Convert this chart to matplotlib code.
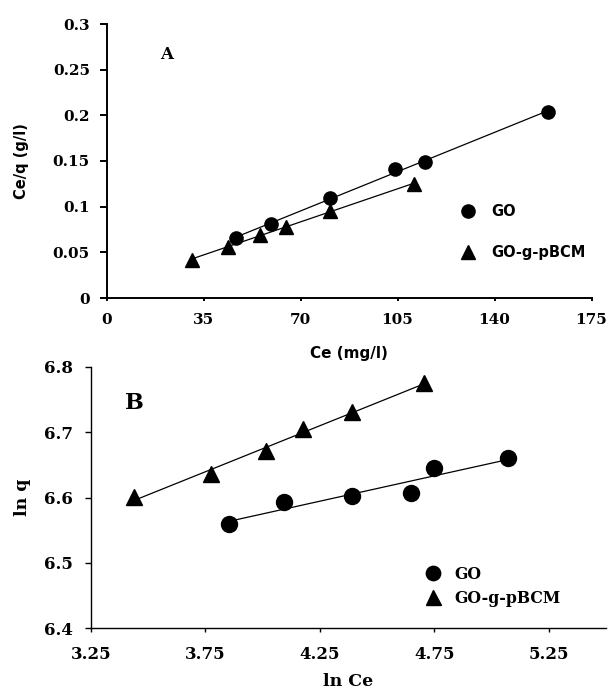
import numpy as np
import matplotlib
matplotlib.use('Agg')
import matplotlib.pyplot as plt

# Panel A : Langmuir  (Ce vs Ce/q)
ce_go = [46.6, 59.2, 80.7, 104.1, 114.9, 159.3]
ceq_go = [0.066, 0.0807, 0.109, 0.141, 0.149, 0.204]
ce_bcm = [30.7, 43.8, 55.3, 64.8, 80.7, 110.9]
ceq_bcm = [0.042, 0.056, 0.069, 0.078, 0.095, 0.125]

# Panel B : Freundlich (ln Ce vs ln q)
lnce_go = [3.852, 4.092, 4.393, 4.648, 4.747, 5.073]
lnq_go = [6.559, 6.593, 6.603, 6.607, 6.645, 6.660]
lnce_bcm = [3.437, 3.777, 4.015, 4.177, 4.393, 4.707]
lnq_bcm = [6.601, 6.636, 6.671, 6.705, 6.730, 6.775]

W, H = 611, 691
serif = 'DejaVu Serif'
sans = 'DejaVu Sans'

def fit_line(ax, x, y, lw=0.9):
	x = np.asarray(x)
	k, b = np.polyfit(x, y, 1)
	xs = np.array([x.min(), x.max()])
	ax.plot(xs, k*xs + b, color='black', lw=lw, zorder=1)

def style(ax, spw, ylen, xlen, size, ypad, xpad):
	for s in ['top', 'right']:
		ax.spines[s].set_visible(False)
	for s in ['left', 'bottom']:
		ax.spines[s].set_linewidth(spw)
	ax.tick_params(axis='y', direction='out', length=ylen, width=spw, labelsize=size, pad=ypad)
	ax.tick_params(axis='x', direction='out', length=xlen, width=spw, labelsize=size, pad=xpad)
	for lab in ax.get_xticklabels() + ax.get_yticklabels():
		lab.set_fontfamily(serif)
		lab.set_fontweight('bold')

fig = plt.figure(figsize=(W/100, H/100), dpi=100)

# ---- A
ax1 = fig.add_axes([106.5/W, 1 - 298/H, 485/W, 274/H])
fit_line(ax1, ce_go, ceq_go)
fit_line(ax1, ce_bcm, ceq_bcm)
ax1.plot(ce_go, ceq_go, 'o', color='black', ms=9.5, label='GO', zorder=3)
ax1.plot(ce_bcm, ceq_bcm, '^', color='black', ms=10, label='GO-g-pBCM', zorder=3)
ax1.set_xlim(0, 175)
ax1.set_ylim(0, 0.3)
ax1.set_xticks([0, 35, 70, 105, 140, 175])
ax1.set_yticks([0, 0.05, 0.1, 0.15, 0.2, 0.25, 0.3])
ax1.set_yticklabels(['0', '0.05', '0.1', '0.15', '0.2', '0.25', '0.3'])
style(ax1, 1.4, 5, 2.5, 11, 7, 8)
ax1.set_xlabel('Ce (mg/l)', fontfamily=sans, fontweight='bold', fontsize=11)
ax1.xaxis.set_label_coords(0.5, -0.175)
ax1.set_ylabel('Ce/q (g/l)', fontfamily=sans, fontweight='bold', fontsize=10.5)
ax1.yaxis.set_label_coords(-0.16, 0.5)
ax1.text(0.124, 0.887, 'A', transform=ax1.transAxes, fontfamily=serif,
		 fontweight='bold', fontsize=12, ha='center', va='center')
ax1.legend(loc='center left', bbox_to_anchor=(0.731, 0.241), frameon=False,
		   prop={'family': sans, 'weight': 'bold', 'size': 10.5},
		   handlelength=1, handletextpad=1.1, labelspacing=1.75, borderpad=0,
		   borderaxespad=0, markerscale=1.0)

# ---- B
ax2 = fig.add_axes([90.7/W, 1 - 628.3/H, 515.3/W, 261.6/H])
fit_line(ax2, lnce_go, lnq_go)
fit_line(ax2, lnce_bcm, lnq_bcm)
ax2.plot(lnce_go, lnq_go, 'o', color='black', ms=11.5, label='GO', zorder=3)
ax2.plot(lnce_bcm, lnq_bcm, '^', color='black', ms=12, label='GO-g-pBCM', zorder=3)
ax2.set_xlim(3.25, 5.5)
ax2.set_ylim(6.4, 6.8)
ax2.set_xticks([3.25, 3.75, 4.25, 4.75, 5.25])
ax2.set_yticks([6.4, 6.5, 6.6, 6.7, 6.8])
style(ax2, 1.0, 4.5, 3, 12, 8, 10)
ax2.set_xlabel('ln Ce', fontfamily=serif, fontweight='bold', fontsize=12.5)
ax2.xaxis.set_label_coords(0.5, -0.17)
ax2.set_ylabel('ln q', fontfamily=serif, fontweight='bold', fontsize=12.5)
ax2.yaxis.set_label_coords(-0.115, 0.5)
ax2.text(0.085, 0.863, 'B', transform=ax2.transAxes, fontfamily=serif,
		 fontweight='bold', fontsize=16, ha='center', va='center')
ax2.legend(loc='center left', bbox_to_anchor=(0.650, 0.161), frameon=False,
		   prop={'family': serif, 'weight': 'bold', 'size': 11.3},
		   handlelength=1, handletextpad=0.8, labelspacing=0.45, borderpad=0,
		   borderaxespad=0, markerscale=0.9)

fig.savefig('out.png', dpi=100)
